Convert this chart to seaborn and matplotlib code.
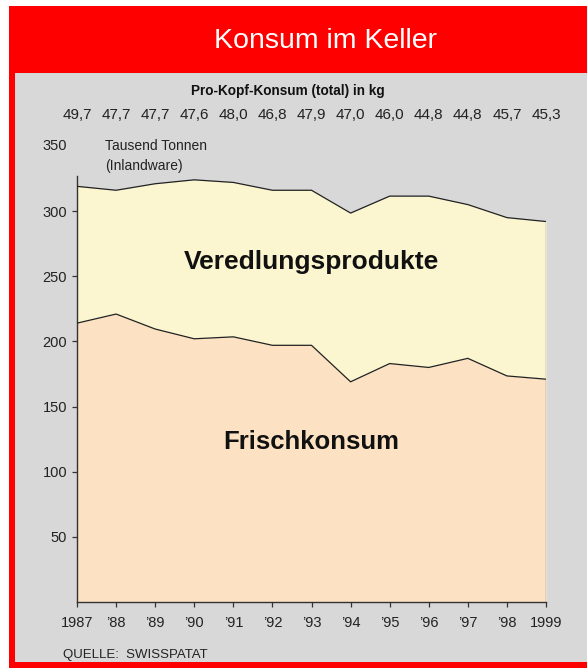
import matplotlib
matplotlib.use("Agg")
import matplotlib.pyplot as plt
import matplotlib.transforms as mtransforms
from matplotlib.patches import Rectangle
import seaborn as sns
import pandas as pd

# ---- data ----
years = [1987, 1988, 1989, 1990, 1991, 1992, 1993, 1994, 1995, 1996, 1997, 1998, 1999]
year_labels = ["1987", "’88", "’89", "’90", "’91", "’92", "’93", "’94", "’95", "’96", "’97", "’98", "1999"]
frischkonsum = [214, 221, 209.5, 202, 203.5, 197, 197, 169, 183, 180, 187, 173.5, 171]
veredlung = [105, 95, 111.5, 122, 118.5, 119, 119, 129.5, 128.5, 131.5, 118, 121.5, 121]
pro_kopf = ["49,7", "47,7", "47,7", "47,6", "48,0", "46,8", "47,9", "47,0", "46,0", "44,8", "44,8", "45,7", "45,3"]
yticks = [50, 100, 150, 200, 250, 300]

total = [f + v for f, v in zip(frischkonsum, veredlung)]
df = pd.DataFrame({"Jahr": years, "Frischkonsum": frischkonsum, "Total": total})

sns.set_theme(style="white")
FONT = ["Liberation Sans", "DejaVu Sans"]
plt.rcParams["font.family"] = FONT

W, H = 587, 668
fig = plt.figure(figsize=(W / 100, H / 100), dpi=100)
fig.patch.set_facecolor("white")

def fx(px):
    return px / W

def fy(py):
    return 1 - py / H

# frame
fig.add_artist(Rectangle((fx(9), 0), 1, fy(6), transform=fig.transFigure,
                         facecolor="#ff0000", edgecolor="none", zorder=0))
fig.add_artist(Rectangle((fx(15), fy(662)), 1, (662 - 73) / H, transform=fig.transFigure,
                         facecolor="#d8d8d8", edgecolor="none", zorder=0))

ax = fig.add_axes([fx(77), 66 / H, (546 - 77) / W, 327 * 1.303 / H])
ax.set_facecolor("none")

BG = "#fbf6cf"
FG = "#fce2c2"
ax.fill_between(df["Jahr"], 0, df["Frischkonsum"], color=FG, linewidth=0, zorder=1)
ax.fill_between(df["Jahr"], df["Frischkonsum"], df["Total"], color=BG, linewidth=0, zorder=1)
sns.lineplot(data=df, x="Jahr", y="Frischkonsum", ax=ax, color="#222222", linewidth=0.9, zorder=3)
sns.lineplot(data=df, x="Jahr", y="Total", ax=ax, color="#222222", linewidth=0.9, zorder=3)
ax.vlines(years[-1], 0, total[-1], color="#444444", linewidth=0.9, zorder=3)

ax.set_xlim(years[0], years[-1])
ax.set_ylim(0, 327)
ax.set_xlabel("")
ax.set_ylabel("")
ax.set_xticks(years)
ax.set_xticklabels(year_labels)
ax.set_yticks(yticks)
ax.set_yticklabels([str(t) for t in yticks])
ax.tick_params(axis="both", which="both", direction="out", length=3.6, width=0.9,
               color="#333333", labelcolor="#222222", labelsize=10.5, pad=3.6,
               left=True, bottom=True)
ax.tick_params(axis="x", pad=6.5)
for s in ["top", "right"]:
    ax.spines[s].set_visible(False)
for s in ["left", "bottom"]:
    ax.spines[s].set_color("#333333")
    ax.spines[s].set_linewidth(1.0)

ax.annotate("350", xy=(0, 350), xycoords=("axes fraction", "data"), xytext=(-7.2, 0),
            textcoords="offset points", ha="right", va="center", fontsize=10.5,
            color="#222222", annotation_clip=False)

# area labels
ax.text(1993, 261, "Veredlungsprodukte", ha="center", va="center", fontsize=19,
        fontweight="bold", color="#111111", zorder=4)
ax.text(1993, 123, "Frischkonsum", ha="center", va="center", fontsize=18.5,
        fontweight="bold", color="#111111", zorder=4)

# titles
fig.text(fx(325), fy(41), "Konsum im Keller", ha="center", va="center", fontsize=20.5,
         color="white")
fig.text(fx(288), fy(91), "Pro-Kopf-Konsum (total) in kg", ha="center", va="center",
         fontsize=9.8, fontweight="bold", color="#111111")
trans = mtransforms.blended_transform_factory(ax.transData, fig.transFigure)
for yr, lab in zip(years, pro_kopf):
    fig.text(yr, fy(115), lab, transform=trans, ha="center", va="center",
             fontsize=11, color="#222222")

fig.text(fx(105), fy(146), "Tausend Tonnen", ha="left", va="center", fontsize=10,
         color="#222222")
fig.text(fx(105), fy(166), "(Inlandware)", ha="left", va="center", fontsize=10,
         color="#222222")
fig.text(fx(63), fy(655), "QUELLE:  SWISSPATAT", ha="left", va="center", fontsize=9.5,
         color="#222222")

fig.savefig("out.png", dpi=100)
